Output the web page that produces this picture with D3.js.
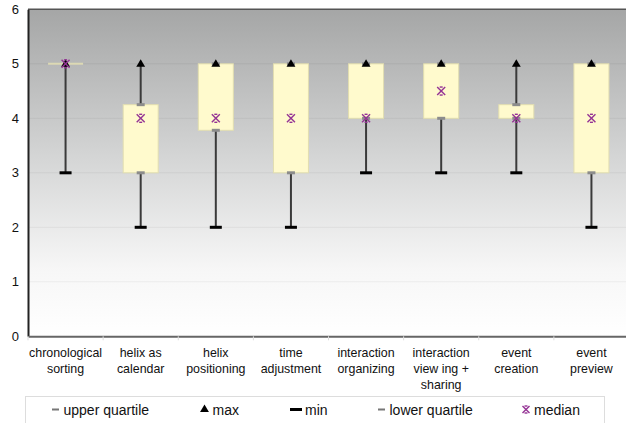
<!DOCTYPE html>
<html>
<head>
<meta charset="utf-8">
<script src="https://cdn.jsdelivr.net/npm/d3@7"></script>
<style>
  body { margin: 0; background: #fff; }
  svg { display: block; font-family: "Liberation Sans", Arial, sans-serif; }
</style>
</head>
<body>
<div id="chart"></div>
<script>
const width = 626;
const height = 423;

// data
const categories = [
  ["chronological", "sorting"],
  ["helix as", "calendar"],
  ["helix", "positioning"],
  ["time", "adjustment"],
  ["interaction", "organizing"],
  ["interaction", "view ing +", "sharing"],
  ["event", "creation"],
  ["event", "preview"]
];
const maxVals = [5, 5, 5, 5, 5, 5, 5, 5];
const upperQ = [5, 4.25, 5, 5, 5, 5, 4.25, 5];
const medians = [5, 4, 4, 4, 4, 4.5, 4, 4];
const lowerQ = [5, 3, 3.78, 3, 4, 4, 4, 3];
const minVals = [3, 2, 2, 2, 3, 3, 3, 2];
const yTicks = [0, 1, 2, 3, 4, 5, 6];

const data = categories.map((c, i) => ({
  i: i, label: c, max: maxVals[i], uq: upperQ[i], med: medians[i], lq: lowerQ[i], min: minVals[i]
}));

const plotLeft = 28, plotRight = 629, plotTop = 9.3, plotBottom = 336.3;

const x = d3.scaleBand().domain(d3.range(categories.length)).range([plotLeft, plotRight]);
const y = d3.scaleLinear().domain([0, 6]).range([plotBottom, plotTop]);

const svg = d3.select("#chart").append("svg")
  .attr("width", width)
  .attr("height", height);

// background gradient
const defs = svg.append("defs");
const grad = defs.append("linearGradient").attr("id", "bg")
  .attr("x1", 0).attr("y1", 0).attr("x2", 0).attr("y2", 1);
grad.append("stop").attr("offset", "0%").attr("stop-color", "#a5a6a6");
grad.append("stop").attr("offset", "45%").attr("stop-color", "#d4d5d5");
grad.append("stop").attr("offset", "80%").attr("stop-color", "#f7f7f7");
grad.append("stop").attr("offset", "100%").attr("stop-color", "#ffffff");

svg.append("rect")
  .attr("x", plotLeft).attr("y", plotTop)
  .attr("width", plotRight - plotLeft).attr("height", plotBottom - plotTop)
  .attr("fill", "url(#bg)");

// gridlines
svg.append("g").selectAll("line")
  .data(yTicks.filter(t => t > 0 && t < 6))
  .join("line")
  .attr("x1", plotLeft).attr("x2", plotRight)
  .attr("y1", d => y(d)).attr("y2", d => y(d))
  .attr("stroke", "rgba(0,0,0,0.05)")
  .attr("stroke-width", 1);

// top border
svg.append("line")
  .attr("x1", plotLeft).attr("x2", plotRight)
  .attr("y1", plotTop).attr("y2", plotTop)
  .attr("stroke", "#555").attr("stroke-width", 1.5);

// axes
const yAxis = svg.append("g")
  .attr("transform", `translate(${plotLeft},0)`)
  .call(d3.axisLeft(y).tickValues(yTicks).tickSize(0).tickPadding(9).tickFormat(d3.format("d")));
yAxis.select(".domain").attr("stroke", "#222").attr("stroke-width", 2);
yAxis.selectAll("text").attr("font-size", 13).attr("fill", "#111")
  .attr("font-family", "Liberation Sans, Arial, sans-serif");

const xAxis = svg.append("g")
  .attr("transform", `translate(0,${plotBottom})`)
  .call(d3.axisBottom(x).tickSize(0).tickFormat(""));
xAxis.select(".domain").attr("stroke", "#666").attr("stroke-width", 2);

// small tick marks between categories
svg.append("g").selectAll("line")
  .data(d3.range(categories.length + 1))
  .join("line")
  .attr("x1", d => plotLeft + d * x.step()).attr("x2", d => plotLeft + d * x.step())
  .attr("y1", plotBottom).attr("y2", plotBottom + 4)
  .attr("stroke", "#ddd");

// category labels
const labels = svg.append("g").selectAll("text")
  .data(data)
  .join("text")
  .attr("x", d => x(d.i) + x.bandwidth() / 2)
  .attr("y", 357)
  .attr("text-anchor", "middle")
  .attr("font-size", 12.4)
  .attr("fill", "#111");
labels.selectAll("tspan")
  .data(d => d.label.map(l => ({ l, cx: x(d.i) + x.bandwidth() / 2 })))
  .join("tspan")
  .attr("x", d => d.cx)
  .attr("dy", (d, j) => j === 0 ? 0 : 16)
  .text(d => d.l);

const boxW = 35;
const cx = d => x(d.i) + x.bandwidth() / 2;

const marks = svg.append("g");

// whiskers (min to max)
marks.selectAll(".whisker")
  .data(data)
  .join("line")
  .attr("class", "whisker")
  .attr("x1", cx).attr("x2", cx)
  .attr("y1", d => y(d.min)).attr("y2", d => y(d.max))
  .attr("stroke", "#3a3a3a").attr("stroke-width", 2);

// boxes
marks.selectAll(".box")
  .data(data)
  .join("rect")
  .attr("class", "box")
  .attr("x", d => cx(d) - boxW / 2)
  .attr("y", d => y(d.uq))
  .attr("width", boxW)
  .attr("height", d => Math.max(y(d.lq) - y(d.uq), 0))
  .attr("fill", "#fffacd")
  .attr("stroke", "#e2deb0")
  .attr("stroke-width", 1);

// flat box for equal quartiles
marks.selectAll(".flat")
  .data(data.filter(d => d.uq === d.lq))
  .join("line")
  .attr("class", "flat")
  .attr("x1", d => cx(d) - boxW / 2).attr("x2", d => cx(d) + boxW / 2)
  .attr("y1", d => y(d.uq)).attr("y2", d => y(d.uq))
  .attr("stroke", "#dcd9b4").attr("stroke-width", 2);

// quartile markers
function dash(sel, key, w, h, color) {
  sel.selectAll(".q-" + key)
    .data(data.filter(d => !(key !== "min" && d.uq === d.lq)))
    .join("rect")
    .attr("class", "q-" + key)
    .attr("x", d => cx(d) - w / 2)
    .attr("y", d => y(d[key]) - h / 2)
    .attr("width", w).attr("height", h)
    .attr("fill", color);
}
dash(marks, "uq", 8, 3, "#8c8c8c");
dash(marks, "lq", 8, 3, "#8c8c8c");
dash(marks, "min", 12, 3, "#000");

// max triangles
const tri = d3.symbol().type(d3.symbolTriangle).size(34);
marks.selectAll(".max")
  .data(data)
  .join("path")
  .attr("class", "max")
  .attr("transform", d => `translate(${cx(d)},${y(d.max) + 0.5})`)
  .attr("d", tri)
  .attr("fill", "#000");

// median star marker: an x with short caps
function star(g, s) {
  g.append("line").attr("x1", -s).attr("y1", -s).attr("x2", s).attr("y2", s);
  g.append("line").attr("x1", -s).attr("y1", s).attr("x2", s).attr("y2", -s);
  g.append("line").attr("x1", -1.5).attr("y1", -s).attr("x2", 1.5).attr("y2", -s);
  g.append("line").attr("x1", -1.5).attr("y1", s).attr("x2", 1.5).attr("y2", s);
  g.attr("stroke", "#943394").attr("stroke-width", 1.4);
}
marks.selectAll(".med")
  .data(data)
  .join("g")
  .attr("class", "med")
  .attr("transform", d => `translate(${cx(d)},${y(d.med)})`)
  .each(function () { star(d3.select(this), 4); });

// legend
const legend = svg.append("g");
legend.append("rect")
  .attr("x", 25.5).attr("y", 396.5)
  .attr("width", 579).attr("height", 40)
  .attr("fill", "#fff").attr("stroke", "#ddd");

const legendItems = [
  { name: "upper quartile", type: "uq", sx: 55.5 },
  { name: "max", type: "max", sx: 204.5 },
  { name: "min", type: "min", sx: 296 },
  { name: "lower quartile", type: "lq", sx: 381.5 },
  { name: "median", type: "med", sx: 526 }
];
const ly = 409.5;
legendItems.forEach(it => {
  const g = legend.append("g");
  if (it.type === "uq" || it.type === "lq") {
    g.append("rect").attr("x", it.sx - 3.5).attr("y", ly - 1).attr("width", 7).attr("height", 2).attr("fill", "#777");
  } else if (it.type === "min") {
    g.append("rect").attr("x", it.sx - 6).attr("y", ly - 1.5).attr("width", 12).attr("height", 3).attr("fill", "#000");
  } else if (it.type === "max") {
    g.append("path").attr("transform", `translate(${it.sx},${ly})`).attr("d", tri).attr("fill", "#000");
  } else {
    star(g.append("g").attr("transform", `translate(${it.sx},${ly})`), 3.5);
  }
  g.append("text")
    .attr("x", it.sx + (it.type === "min" ? 9 : 8))
    .attr("y", ly + 5)
    .attr("font-size", 14)
    .attr("fill", "#111")
    .text(it.name);
});
</script>
</body>
</html>
